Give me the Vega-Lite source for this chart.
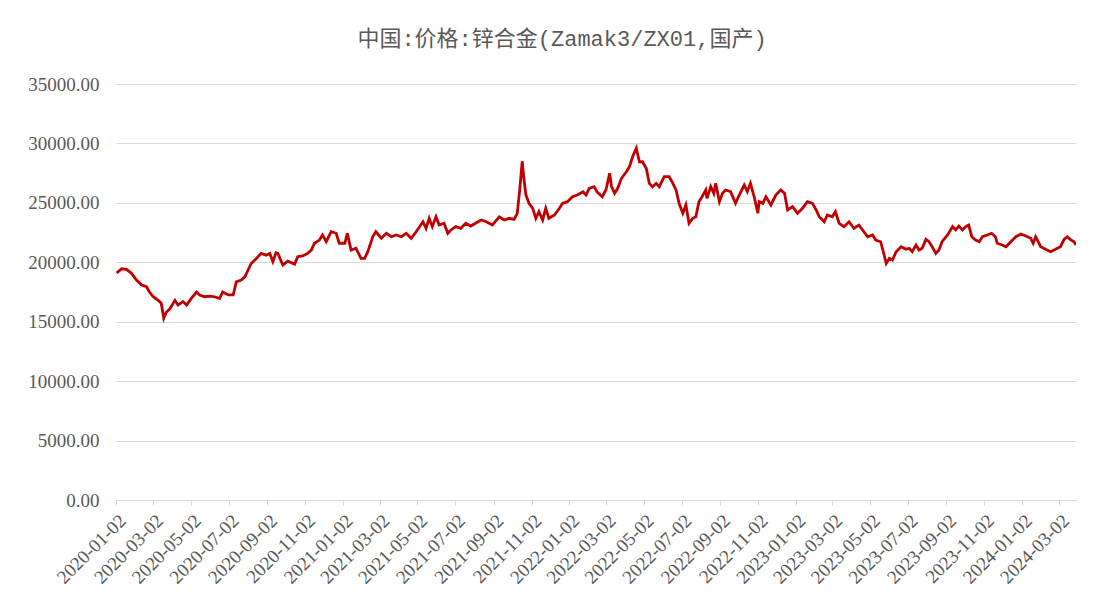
{
  "$schema": "https://vega.github.io/schema/vega-lite/v6.json",
  "width": 960,
  "height": 416,
  "autosize": {"type": "none"},
  "padding": {"left": 116, "top": 84, "right": 31, "bottom": 112},
  "background": "white",
  "title": {
    "text": "中国:价格:锌合金(Zamak3/ZX01,国产)",
    "font": "Liberation Mono, Noto Sans CJK SC",
    "fontSize": 22,
    "fontWeight": "normal",
    "color": "#595959",
    "anchor": "middle",
    "dx": -34,
    "offset": 24
  },
  "config": {
    "view": {"stroke": null},
    "axis": {
      "labelFont": "Liberation Serif",
      "labelColor": "#595959",
      "gridColor": "#D9D9D9",
      "gridWidth": 1,
      "domainColor": "#D9D9D9",
      "tickColor": "#D9D9D9"
    }
  },
  "data": {
    "values": [
      {"d":"2020-01-03","v":19100},{"d":"2020-01-11","v":19450},{"d":"2020-01-19","v":19400},{"d":"2020-01-27","v":19070},
      {"d":"2020-02-04","v":18500},{"d":"2020-02-12","v":18100},{"d":"2020-02-20","v":17950},{"d":"2020-02-25","v":17500},
      {"d":"2020-03-02","v":17100},{"d":"2020-03-10","v":16800},{"d":"2020-03-15","v":16550},{"d":"2020-03-19","v":15300},
      {"d":"2020-03-23","v":15800},{"d":"2020-03-29","v":16100},{"d":"2020-04-06","v":16800},{"d":"2020-04-11","v":16400},
      {"d":"2020-04-19","v":16700},{"d":"2020-04-25","v":16400},{"d":"2020-05-03","v":17000},{"d":"2020-05-11","v":17500},
      {"d":"2020-05-16","v":17250},{"d":"2020-05-24","v":17100},{"d":"2020-06-01","v":17150},{"d":"2020-06-09","v":17100},
      {"d":"2020-06-17","v":16950},{"d":"2020-06-22","v":17500},{"d":"2020-07-01","v":17250},{"d":"2020-07-09","v":17250},
      {"d":"2020-07-14","v":18350},{"d":"2020-07-22","v":18500},{"d":"2020-07-28","v":18800},{"d":"2020-08-02","v":19350},
      {"d":"2020-08-07","v":19900},{"d":"2020-08-15","v":20300},{"d":"2020-08-23","v":20750},{"d":"2020-08-31","v":20600},
      {"d":"2020-09-06","v":20750},{"d":"2020-09-11","v":20050},{"d":"2020-09-16","v":20800},{"d":"2020-09-19","v":20750},
      {"d":"2020-09-27","v":19770},{"d":"2020-10-05","v":20100},{"d":"2020-10-16","v":19850},{"d":"2020-10-21","v":20470},
      {"d":"2020-10-29","v":20530},{"d":"2020-11-06","v":20750},{"d":"2020-11-12","v":21030},{"d":"2020-11-17","v":21600},
      {"d":"2020-11-25","v":21870},{"d":"2020-11-30","v":22300},{"d":"2020-12-06","v":21730},{"d":"2020-12-14","v":22570},
      {"d":"2020-12-22","v":22440},{"d":"2020-12-27","v":21600},{"d":"2021-01-05","v":21600},{"d":"2021-01-09","v":22440},
      {"d":"2021-01-15","v":21030},{"d":"2021-01-23","v":21180},{"d":"2021-01-31","v":20330},{"d":"2021-02-06","v":20330},
      {"d":"2021-02-11","v":20890},{"d":"2021-02-19","v":22150},{"d":"2021-02-24","v":22570},{"d":"2021-03-05","v":22020},
      {"d":"2021-03-13","v":22440},{"d":"2021-03-21","v":22150},{"d":"2021-03-29","v":22300},{"d":"2021-04-06","v":22150},
      {"d":"2021-04-14","v":22440},{"d":"2021-04-22","v":22020},{"d":"2021-04-30","v":22570},{"d":"2021-05-11","v":23410},
      {"d":"2021-05-16","v":22860},{"d":"2021-05-21","v":23700},{"d":"2021-05-26","v":23000},{"d":"2021-06-01","v":23830},
      {"d":"2021-06-06","v":23130},{"d":"2021-06-14","v":23280},{"d":"2021-06-20","v":22440},{"d":"2021-06-25","v":22720},
      {"d":"2021-07-03","v":23000},{"d":"2021-07-11","v":22860},{"d":"2021-07-19","v":23280},{"d":"2021-07-27","v":23050},
      {"d":"2021-08-05","v":23330},{"d":"2021-08-13","v":23560},{"d":"2021-08-21","v":23410},{"d":"2021-08-31","v":23130},
      {"d":"2021-09-11","v":23830},{"d":"2021-09-19","v":23560},{"d":"2021-09-27","v":23700},{"d":"2021-10-05","v":23610},
      {"d":"2021-10-10","v":24120},{"d":"2021-10-14","v":26080},{"d":"2021-10-18","v":28500},{"d":"2021-10-21","v":26920},
      {"d":"2021-10-24","v":25660},{"d":"2021-10-29","v":24960},{"d":"2021-11-04","v":24540},{"d":"2021-11-09","v":23700},
      {"d":"2021-11-14","v":24260},{"d":"2021-11-20","v":23560},{"d":"2021-11-25","v":24540},{"d":"2021-11-30","v":23700},
      {"d":"2021-12-09","v":23980},{"d":"2021-12-17","v":24540},{"d":"2021-12-22","v":24960},{"d":"2021-12-30","v":25100},
      {"d":"2022-01-07","v":25520},{"d":"2022-01-15","v":25660},{"d":"2022-01-24","v":25940},{"d":"2022-01-29","v":25660},
      {"d":"2022-02-03","v":26220},{"d":"2022-02-11","v":26360},{"d":"2022-02-16","v":25900},{"d":"2022-02-24","v":25520},
      {"d":"2022-03-02","v":26080},{"d":"2022-03-08","v":27490},{"d":"2022-03-11","v":26360},{"d":"2022-03-16","v":25800},
      {"d":"2022-03-21","v":26220},{"d":"2022-03-27","v":27060},{"d":"2022-04-04","v":27620},{"d":"2022-04-09","v":28040},
      {"d":"2022-04-14","v":28880},{"d":"2022-04-20","v":29600},{"d":"2022-04-25","v":28460},{"d":"2022-04-30","v":28460},
      {"d":"2022-05-06","v":27910},{"d":"2022-05-11","v":26640},{"d":"2022-05-16","v":26360},{"d":"2022-05-22","v":26640},
      {"d":"2022-05-27","v":26360},{"d":"2022-06-04","v":27200},{"d":"2022-06-12","v":27200},{"d":"2022-06-18","v":26640},
      {"d":"2022-06-23","v":26080},{"d":"2022-06-28","v":24960},{"d":"2022-07-04","v":24120},{"d":"2022-07-09","v":24820},
      {"d":"2022-07-14","v":23280},{"d":"2022-07-20","v":23700},{"d":"2022-07-25","v":23830},{"d":"2022-07-30","v":25100},
      {"d":"2022-08-04","v":25520},{"d":"2022-08-10","v":26080},{"d":"2022-08-12","v":25380},{"d":"2022-08-18","v":26360},
      {"d":"2022-08-23","v":25800},{"d":"2022-08-26","v":26640},{"d":"2022-09-01","v":25100},{"d":"2022-09-06","v":25800},
      {"d":"2022-09-11","v":26080},{"d":"2022-09-19","v":25940},{"d":"2022-09-27","v":24960},{"d":"2022-10-03","v":25660},
      {"d":"2022-10-11","v":26500},{"d":"2022-10-16","v":25940},{"d":"2022-10-21","v":26640},{"d":"2022-10-27","v":25520},
      {"d":"2022-11-02","v":24120},{"d":"2022-11-04","v":25100},{"d":"2022-11-10","v":24960},{"d":"2022-11-15","v":25520},
      {"d":"2022-11-23","v":24820},{"d":"2022-12-01","v":25660},{"d":"2022-12-09","v":26080},{"d":"2022-12-15","v":25800},
      {"d":"2022-12-20","v":24400},{"d":"2022-12-28","v":24680},{"d":"2023-01-05","v":24120},{"d":"2023-01-13","v":24540},
      {"d":"2023-01-21","v":25100},{"d":"2023-01-29","v":24960},{"d":"2023-02-04","v":24400},{"d":"2023-02-09","v":23830},
      {"d":"2023-02-17","v":23410},{"d":"2023-02-22","v":23980},{"d":"2023-03-02","v":23830},{"d":"2023-03-07","v":24260},
      {"d":"2023-03-13","v":23280},{"d":"2023-03-21","v":23000},{"d":"2023-03-29","v":23410},{"d":"2023-04-06","v":22860},
      {"d":"2023-04-14","v":23130},{"d":"2023-04-22","v":22570},{"d":"2023-04-28","v":22150},{"d":"2023-05-06","v":22300},
      {"d":"2023-05-11","v":21870},{"d":"2023-05-19","v":21730},{"d":"2023-05-24","v":20750},{"d":"2023-05-28","v":19900},
      {"d":"2023-06-02","v":20330},{"d":"2023-06-07","v":20190},{"d":"2023-06-13","v":20890},{"d":"2023-06-21","v":21310},
      {"d":"2023-06-29","v":21090},{"d":"2023-07-04","v":21180},{"d":"2023-07-09","v":20890},{"d":"2023-07-15","v":21450},
      {"d":"2023-07-20","v":21030},{"d":"2023-07-25","v":21180},{"d":"2023-07-31","v":21940},{"d":"2023-08-05","v":21730},
      {"d":"2023-08-10","v":21310},{"d":"2023-08-16","v":20750},{"d":"2023-08-21","v":21030},{"d":"2023-08-26","v":21730},
      {"d":"2023-09-04","v":22300},{"d":"2023-09-12","v":23000},{"d":"2023-09-17","v":22720},{"d":"2023-09-22","v":23050},
      {"d":"2023-09-28","v":22720},{"d":"2023-10-03","v":23000},{"d":"2023-10-08","v":23130},{"d":"2023-10-13","v":22150},
      {"d":"2023-10-19","v":21870},{"d":"2023-10-25","v":21730},{"d":"2023-10-30","v":22150},{"d":"2023-11-07","v":22300},
      {"d":"2023-11-14","v":22440},{"d":"2023-11-20","v":22150},{"d":"2023-11-23","v":21600},{"d":"2023-12-01","v":21450},
      {"d":"2023-12-07","v":21310},{"d":"2023-12-15","v":21730},{"d":"2023-12-23","v":22150},{"d":"2023-12-31","v":22380},
      {"d":"2024-01-08","v":22210},{"d":"2024-01-16","v":22020},{"d":"2024-01-20","v":21600},{"d":"2024-01-24","v":22150},
      {"d":"2024-02-01","v":21310},{"d":"2024-02-09","v":21090},{"d":"2024-02-17","v":20890},{"d":"2024-02-25","v":21090},
      {"d":"2024-03-04","v":21310},{"d":"2024-03-10","v":21940},{"d":"2024-03-15","v":22150},{"d":"2024-03-21","v":21870},
      {"d":"2024-03-26","v":21730},{"d":"2024-03-29","v":21450}
    ]
  },
  "mark": {"type": "line", "color": "#C00000", "strokeWidth": 2.8, "clip": true},
  "encoding": {
    "x": {
      "field": "d",
      "type": "temporal",
      "scale": {
        "type": "utc",
        "domain": [
          {"year": 2020, "month": 1, "date": 2, "utc": true},
          {"year": 2024, "month": 3, "date": 29, "utc": true}
        ]
      },
      "axis": {
        "title": null,
        "grid": false,
        "format": "%Y-%m-%d",
        "labelAngle": -45,
        "labelFontSize": 19,
        "labelPadding": 6,
        "tickSize": 5,
        "labelOverlap": false,
        "labelFlush": false,
        "values": [
          {"year": 2020, "month": 1, "date": 2, "utc": true},
          {"year": 2020, "month": 3, "date": 2, "utc": true},
          {"year": 2020, "month": 5, "date": 2, "utc": true},
          {"year": 2020, "month": 7, "date": 2, "utc": true},
          {"year": 2020, "month": 9, "date": 2, "utc": true},
          {"year": 2020, "month": 11, "date": 2, "utc": true},
          {"year": 2021, "month": 1, "date": 2, "utc": true},
          {"year": 2021, "month": 3, "date": 2, "utc": true},
          {"year": 2021, "month": 5, "date": 2, "utc": true},
          {"year": 2021, "month": 7, "date": 2, "utc": true},
          {"year": 2021, "month": 9, "date": 2, "utc": true},
          {"year": 2021, "month": 11, "date": 2, "utc": true},
          {"year": 2022, "month": 1, "date": 2, "utc": true},
          {"year": 2022, "month": 3, "date": 2, "utc": true},
          {"year": 2022, "month": 5, "date": 2, "utc": true},
          {"year": 2022, "month": 7, "date": 2, "utc": true},
          {"year": 2022, "month": 9, "date": 2, "utc": true},
          {"year": 2022, "month": 11, "date": 2, "utc": true},
          {"year": 2023, "month": 1, "date": 2, "utc": true},
          {"year": 2023, "month": 3, "date": 2, "utc": true},
          {"year": 2023, "month": 5, "date": 2, "utc": true},
          {"year": 2023, "month": 7, "date": 2, "utc": true},
          {"year": 2023, "month": 9, "date": 2, "utc": true},
          {"year": 2023, "month": 11, "date": 2, "utc": true},
          {"year": 2024, "month": 1, "date": 2, "utc": true},
          {"year": 2024, "month": 3, "date": 2, "utc": true}
        ]
      }
    },
    "y": {
      "field": "v",
      "type": "quantitative",
      "scale": {"domain": [0, 35000], "nice": false, "zero": true},
      "axis": {
        "title": null,
        "values": [0, 5000, 10000, 15000, 20000, 25000, 30000, 35000],
        "format": ".2f",
        "domain": false,
        "ticks": false,
        "labelFontSize": 19,
        "labelPadding": 17
      }
    }
  }
}
